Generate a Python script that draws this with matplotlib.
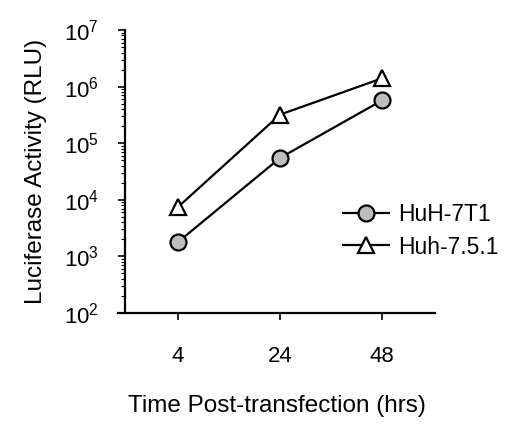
import matplotlib
matplotlib.use("Agg")
import matplotlib.pyplot as plt
from matplotlib.ticker import LogLocator, FixedLocator, NullFormatter

plt.rcParams['font.family'] = ['Liberation Sans', 'DejaVu Sans']
plt.rcParams['mathtext.fontset'] = 'custom'
plt.rcParams['mathtext.rm'] = 'Liberation Sans'
plt.rcParams['mathtext.it'] = 'Liberation Sans'
plt.rcParams['mathtext.default'] = 'regular'

times = ["4", "24", "48"]
huh7t1 = [1.8e3, 5.5e4, 5.7e5]
huh751 = [7.5e3, 3.2e5, 1.4e6]
yticks = [1e2, 1e3, 1e4, 1e5, 1e6, 1e7]
ytick_labels = [r"$10^{2}$", r"$10^{3}$", r"$10^{4}$", r"$10^{5}$", r"$10^{6}$", r"$10^{7}$"]

fig = plt.figure(figsize=(5.12, 4.25), dpi=100)
ax = fig.add_axes([118/512, 1-313/425, 317/512, 283/425])
x = list(range(len(times)))

ax.plot(x, huh7t1, color='black', lw=1.6, marker='o', ms=11.5, mfc='#bdbdbd', mec='black', mew=1.6, label='HuH-7T1')
ax.plot(x, huh751, color='black', lw=1.6, marker='^', ms=12, mfc='white', mec='black', mew=1.6, label='Huh-7.5.1')

ax.set_yscale('log')
ax.set_ylim(1e2, 1e7)
ax.set_xlim(-0.59, 2.52)
ax.yaxis.set_major_locator(FixedLocator(yticks))
ax.yaxis.set_minor_locator(LogLocator(base=10, subs=range(2, 10), numticks=20))
ax.yaxis.set_minor_formatter(NullFormatter())
ax.set_yticklabels(ytick_labels)
ax.set_xticks(x)
ax.set_xticklabels(times)

for s in ['top', 'right']:
    ax.spines[s].set_visible(False)
ax.spines['left'].set_position(('axes', 7/317))
ax.spines['left'].set_linewidth(1.6)
ax.spines['bottom'].set_linewidth(1.6)
ax.tick_params(axis='y', which='major', length=5, width=1.2, direction='out', pad=14, labelsize=16)
ax.tick_params(axis='y', which='minor', length=3, width=0.8, direction='out')
ax.tick_params(axis='x', length=5, width=1.2, direction='out', pad=19, labelsize=16)

ax.set_xlabel('Time Post-transfection (hrs)', fontsize=17.5, labelpad=20)
ax.set_ylabel('Luciferase Activity (RLU)', fontsize=17.5, labelpad=12)

ax.legend(loc='center left', bbox_to_anchor=(0.68, 0.29), frameon=False, fontsize=16.5,
          handlelength=2.0, handletextpad=0.4, labelspacing=0.4, borderaxespad=0)

fig.savefig('out.png', dpi=100)
